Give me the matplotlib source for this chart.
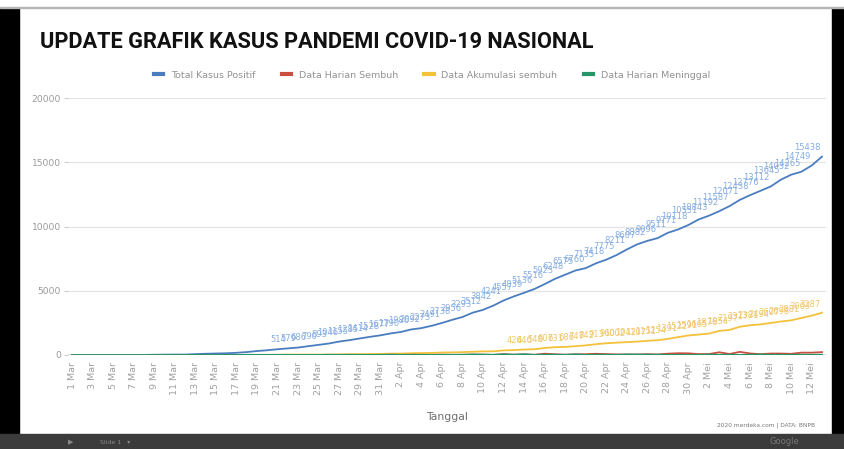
import matplotlib.pyplot as plt
from matplotlib.patches import Rectangle
from matplotlib import font_manager

# tanggal: 1 Mar - 13 Mei 2020
bulan = ['Mar'] * 31 + ['Apr'] * 30 + ['Mei'] * 13
hari = list(range(1, 32)) + list(range(1, 31)) + list(range(1, 14))
tanggal = [f'{h} {b}' for h, b in zip(hari, bulan)]

total_positif = [
    0, 2, 2, 2, 2, 4, 4, 6, 19, 27, 34, 34, 69, 96, 117, 134, 172, 227, 309, 369,
    450, 514, 579, 686, 790, 893, 1046, 1155, 1285, 1414, 1528,
    1677, 1790, 1986, 2092, 2273, 2491, 2738, 2956, 3293, 3512, 3842, 4241, 4557,
    4839, 5136, 5516, 5923, 6248, 6575, 6760, 7135, 7418, 7775, 8211, 8607, 8882,
    9096, 9511, 9771, 10118,
    10551, 10843, 11192, 11587, 12071, 12438, 12776, 13112, 13645, 14032, 14265,
    14749, 15438]

akumulasi_sembuh = [
    0, 0, 0, 0, 0, 0, 0, 0, 0, 0, 0, 0, 5, 8, 8, 8, 9, 11, 15, 16,
    20, 29, 30, 30, 31, 35, 46, 59, 64, 75, 81,
    103, 112, 134, 150, 164, 192, 204, 222, 252, 282, 286, 359, 380,
    426, 446, 548, 607, 631, 686, 747, 842, 913, 960, 1002, 1042, 1107,
    1151, 1254, 1391, 1522,
    1591, 1665, 1876, 1954, 2197, 2317, 2381, 2494, 2607, 2698, 2881,
    3063, 3287]

harian_sembuh = [
    0, 0, 0, 0, 0, 0, 0, 0, 0, 0, 0, 0, 5, 3, 0, 0, 1, 2, 4, 1,
    4, 9, 1, 0, 1, 4, 11, 13, 5, 11, 6,
    22, 9, 22, 16, 14, 28, 12, 18, 30, 30, 4, 73, 21,
    46, 20, 102, 59, 24, 55, 61, 95, 71, 47, 42, 40, 65,
    44, 103, 137, 131,
    69, 74, 211, 78, 243, 120, 64, 113, 113, 91, 183,
    182, 224]

harian_meninggal = [
    0, 0, 0, 0, 0, 0, 0, 0, 0, 0, 1, 0, 3, 1, 0, 0, 0, 14, 6, 7,
    6, 10, 1, 6, 3, 20, 9, 15, 12, 8, 14,
    21, 13, 11, 10, 7, 11, 12, 19, 40, 26, 21, 46, 26,
    60, 10, 27, 24, 15, 47, 8, 26, 19, 12, 42, 31, 23,
    22, 8, 11, 8,
    8, 31, 14, 19, 8, 23, 35, 13, 16, 14, 18,
    16, 21]

W, H = 844, 449
fig = plt.figure(figsize=(W / 100, H / 100), dpi=100, facecolor='white')

# bingkai layar presentasi
fig.patches.append(Rectangle((0, 0), 19 / W, 1 - 8 / H, transform=fig.transFigure,
                             color='black', zorder=0))
fig.patches.append(Rectangle((832 / W, 0), 12 / W, 1 - 8 / H, transform=fig.transFigure,
                             color='black', zorder=0))
fig.patches.append(Rectangle((0, 1 - 8 / H), 1, 1 / H, transform=fig.transFigure,
                             color='#b5b5b5', zorder=0))
fig.patches.append(Rectangle((0, 0), 1, 15 / H, transform=fig.transFigure,
                             color='#3b3b3b', zorder=1))
fig.text(68 / W, 7 / H, '\u25b6', color='#8a8a8a', fontsize=5, va='center')
fig.text(100 / W, 7 / H, 'Slide 1   \u25be', color='#8a8a8a', fontsize=4.5, va='center')
fig.text(770 / W, 7 / H, 'Google', color='#777777', fontsize=6, va='center')

title_fonts = [f for f in ['Liberation Sans Narrow', 'Roboto', 'DejaVu Sans']
               if any(f == x.name for x in font_manager.fontManager.ttflist)]
judul = fig.text(40 / W, 1 - 42 / H, 'UPDATE GRAFIK KASUS PANDEMI COVID-19 NASIONAL',
                 fontsize=18, fontweight='bold', family=title_fonts[0], color='#111111',
                 va='center', ha='left')
fig.canvas.draw()
lebar = judul.get_window_extent().width
judul.set_fontsize(18 * 556 / lebar)

ax = fig.add_axes([68 / W, 1 - 355 / H, (826 - 68) / W, (355 - 98) / H])
ax.set_facecolor('white')
x = list(range(len(tanggal)))

seri = [
    (total_positif, 'Total Kasus Positif', '#4a7dc0', 3),
    (harian_sembuh, 'Data Harian Sembuh', '#c9503f', 4),
    (akumulasi_sembuh, 'Data Akumulasi sembuh', '#f3c13a', 3),
    (harian_meninggal, 'Data Harian Meninggal', '#23976a', 5),
]
for nilai, nama, warna, z in seri:
    ax.plot(x, nilai, color=warna, lw=1.3, label=nama, zorder=z)

# label nilai di atas garis
for i, v in enumerate(total_positif):
    if v >= 500:
        ax.annotate(str(v), (i, v), xytext=(-1, 3), textcoords='offset points',
                    ha='right', va='bottom', fontsize=6, color='#86ade2', zorder=6)
for i, v in enumerate(akumulasi_sembuh):
    if v >= 400:
        ax.annotate(str(v), (i, v), xytext=(-1, 3), textcoords='offset points',
                    ha='right', va='bottom', fontsize=6, color='#f0c76a', zorder=6)

ax.set_xlim(-0.39, 73.39)
ax.set_ylim(0, 20000)
ax.set_yticks(range(0, 20001, 5000))
ax.set_xticks(x[::2])
ax.set_xticklabels(tanggal[::2], rotation=90, fontsize=6.8, color='#a0a0a0')
ax.tick_params(axis='y', labelsize=6.6, labelcolor='#9a9a9a', length=3, color='#cccccc', pad=2)
ax.tick_params(axis='x', length=0, pad=5)
ax.grid(axis='y', color='#e4e4e4', lw=0.9)
ax.set_axisbelow(True)
for s in ('top', 'right', 'bottom', 'left'):
    ax.spines[s].set_visible(False)
ax.axhline(0, color='#666666', lw=1.0, zorder=2)

ax.set_xlabel('Tanggal', fontsize=7.8, color='#6f6f6f', labelpad=12)

leg = fig.legend(loc='center', bbox_to_anchor=(0.5 + 10 / W, 1 - 75 / H), ncol=4,
                 frameon=False, fontsize=6.8, handlelength=1.0, handletextpad=0.8,
                 columnspacing=2.8, labelcolor='#929292')
for h in leg.legend_handles:
    h.set_linewidth(3)

fig.text(815 / W, 1 - 425 / H, '2020 merdeka.com | DATA: BNPB', fontsize=4.2,
         color='#777777', ha='right', va='center')

fig.savefig('out.png', dpi=100, facecolor='white')
